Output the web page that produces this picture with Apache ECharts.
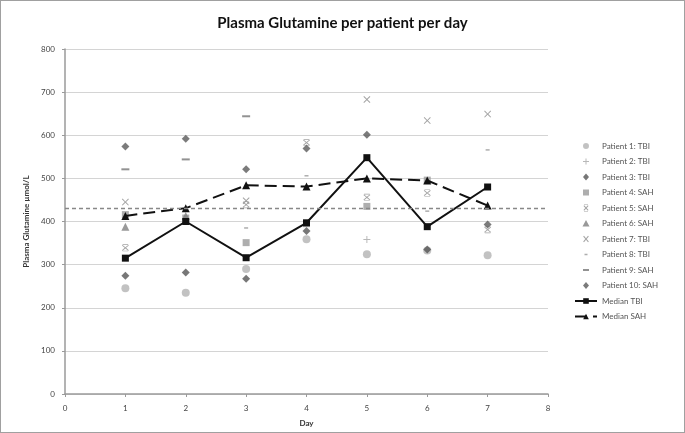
<!DOCTYPE html>
<html><head><meta charset="utf-8">
<script src="https://cdn.jsdelivr.net/npm/echarts@6/dist/echarts.min.js"></script>
<style>html,body{margin:0;padding:0;background:#fff}#c{width:685px;height:433px;box-sizing:border-box;border:1px solid #a0a0a0}</style>
</head><body><div id="c"></div>
<script>
const days = [1, 2, 3, 4, 5, 6, 7];
const xTicks = [0, 1, 2, 3, 4, 5, 6, 7, 8];
const p1 = [245, 235, 290, 359, 324, 333, 322];
const p2 = [null, null, null, null, 358, null, null];
const p3 = [274, 282, 267, 378, null, 335, null];
const p4 = [416, 408, 351, 395, 435, 496, null];
const p5 = [339, null, 439, 583, 456, 466, 381];
const p6 = [388, 413, null, null, null, null, null];
const p7 = [445, null, 448, null, 683, 634, 649];
const p8 = [null, null, 385, 506, null, 424, 566];
const p9 = [521, 544, 644, null, null, null, null];
const p10 = [574, 592, 521, 569, 601, null, 393];
const medianTBI = [315, 400, 316, 397, 548, 388, 480];
const medianSAH = [413, 431, 484, 481, 500, 495, 437];
const refLine = 430;

const X_PATH = 'path://M0,1L1,0L5,4L9,0L10,1L6,5L10,9L9,10L5,6L1,10L0,9L4,5Z';
const STAR_PATH = 'path://M0,1L1,0L5,4L9,0L10,1L6,5L10,9L9,10L5,6L1,10L0,9L4,5Z M1,-1H9V0H1Z M1,10H9V11H1Z';
const PLUS_PATH = 'path://M4.3,0H5.7V4.3H10V5.7H5.7V10H4.3V5.7H0V4.3H4.3Z';

const FRAME = 'M0,0L0.01,0L0,0.01Z M22,7L21.99,7L22,6.99Z ';
const LEG = {
  circle: 'path://' + FRAME + 'M8,3.5A3,3 0 1,0 14,3.5A3,3 0 1,0 8,3.5Z',
  plus: 'path://' + FRAME + 'M10.5,0.5H11.5V3H14V4H11.5V6.5H10.5V4H8V3H10.5Z',
  diamond: 'path://' + FRAME + 'M11,0L14,3.5L11,7L8,3.5Z',
  rect: 'path://' + FRAME + 'M8,0.5H14V6.5H8Z',
  star: 'path://' + FRAME + 'M8.5,1.5L9.2,0.8L11,2.8L12.8,0.8L13.5,1.5L11.7,3.5L13.5,5.5L12.8,6.2L11,4.2L9.2,6.2L8.5,5.5L10.3,3.5Z M9,0H13V0.6H9Z M9,6.4H13V7H9Z',
  triangle: 'path://' + FRAME + 'M11,0L14.5,6.5H7.5Z',
  x: 'path://' + FRAME + 'M8.2,1L9,0.2L11,2.7L13,0.2L13.8,1L11.7,3.5L13.8,6L13,6.8L11,4.3L9,6.8L8.2,6L10.3,3.5Z',
  dashS: 'path://' + FRAME + 'M9.5,2.8H12.5V4.2H9.5Z',
  dashL: 'path://' + FRAME + 'M8,2.6H14V4.4H8Z'
};

function pts(arr){ const o=[]; arr.forEach((v,i)=>{ if(v!==null) o.push([days[i], v]); }); return o; }
function sc(name, arr, symbol, size, color){
  return {name, type:'scatter', data: pts(arr), symbol, symbolSize: size,
    itemStyle:{color}, emphasis:{disabled:true}, z:3};
}
const series = [
  sc('Patient 1: TBI', p1, 'circle', 8, '#b3b3b3'),
  sc('Patient 2: TBI', p2, PLUS_PATH, 7, '#a6a6a6'),
  sc('Patient 3: TBI', p3, 'diamond', 8, '#555555'),
  sc('Patient 4: SAH', p4, 'rect', 7, '#9a9a9a'),
  sc('Patient 5: SAH', p5, STAR_PATH, 7, '#8c8c8c'),
  sc('Patient 6: SAH', p6, 'triangle', 8, '#808080'),
  sc('Patient 7: TBI', p7, X_PATH, 7, '#8c8c8c'),
  sc('Patient 8: TBI', p8, 'rect', [4, 1.5], '#999999'),
  sc('Patient 9: SAH', p9, 'rect', [8, 2], '#777777'),
  sc('Patient 10: SAH', p10, 'diamond', 8, '#5a5a5a'),
  {name:'Median TBI', type:'line', data: pts(medianTBI), symbol:'rect', symbolSize:7,
    lineStyle:{color:'#111', width:2}, itemStyle:{color:'#111'}, z:4, emphasis:{disabled:true},
    markLine:{silent:true, symbol:'none', label:{show:false},
      lineStyle:{color:'#888', type:[4,3], width:1.3}, data:[{yAxis: refLine}]}},
  {name:'Median SAH', type:'line', data: pts(medianSAH), symbol:'triangle', symbolSize:8,
    lineStyle:{color:'#111', width:2, type:[12,6]}, itemStyle:{color:'#111'}, z:4, emphasis:{disabled:true}}
];
const legendIcons = [LEG.circle, LEG.plus, LEG.diamond, LEG.rect, LEG.star, LEG.triangle, LEG.x, LEG.dashS, LEG.dashL, LEG.diamond];
const legendData = series.map((s,i)=> i < legendIcons.length ? {name:s.name, icon:legendIcons[i]} : {name:s.name});

const chart = echarts.init(document.getElementById('c'));
chart.setOption({
  animation:false,
  textStyle:{fontFamily:'Lato'},
  title:{text:'Plasma Glutamine per patient per day', left:'center', top:10,
    textStyle:{fontFamily:'Lato', fontWeight:'bold', fontSize:15, color:'#111'}},
  grid:{left:64, right:136, top:48, bottom:34},
  xAxis:{type:'value', min:0, max:8, interval:1, name:'Day', nameLocation:'middle', nameGap:25,
    nameTextStyle:{fontSize:8, fontWeight:'bold', color:'#333'},
    axisLine:{lineStyle:{color:'#9a9a9a', width:1.5}}, axisTick:{show:true, length:3, lineStyle:{color:'#9a9a9a'}},
    splitLine:{show:false},
    axisLabel:{fontSize:8, color:'#444', margin:10, formatter:v=>xTicks.includes(v)?String(v):''}},
  yAxis:{type:'value', min:0, max:800, interval:100, name:'Plasma Glutamine µmol/L', nameLocation:'middle', nameGap:30,
    nameTextStyle:{fontSize:8, fontWeight:'bold', color:'#333'},
    axisLine:{show:true, lineStyle:{color:'#9a9a9a', width:1.5}}, axisTick:{show:true, length:3, lineStyle:{color:'#9a9a9a'}},
    splitLine:{lineStyle:{color:'#d4d4d4', width:1.2}},
    axisLabel:{fontSize:8, color:'#444', margin:10}},
  legend:{orient:'vertical', left:568, top:136, itemGap:7.5, itemWidth:22, itemHeight:7,
    textStyle:{fontSize:8, color:'#555'}, selectedMode:false,
    data: legendData},
  series
});
</script></body></html>
